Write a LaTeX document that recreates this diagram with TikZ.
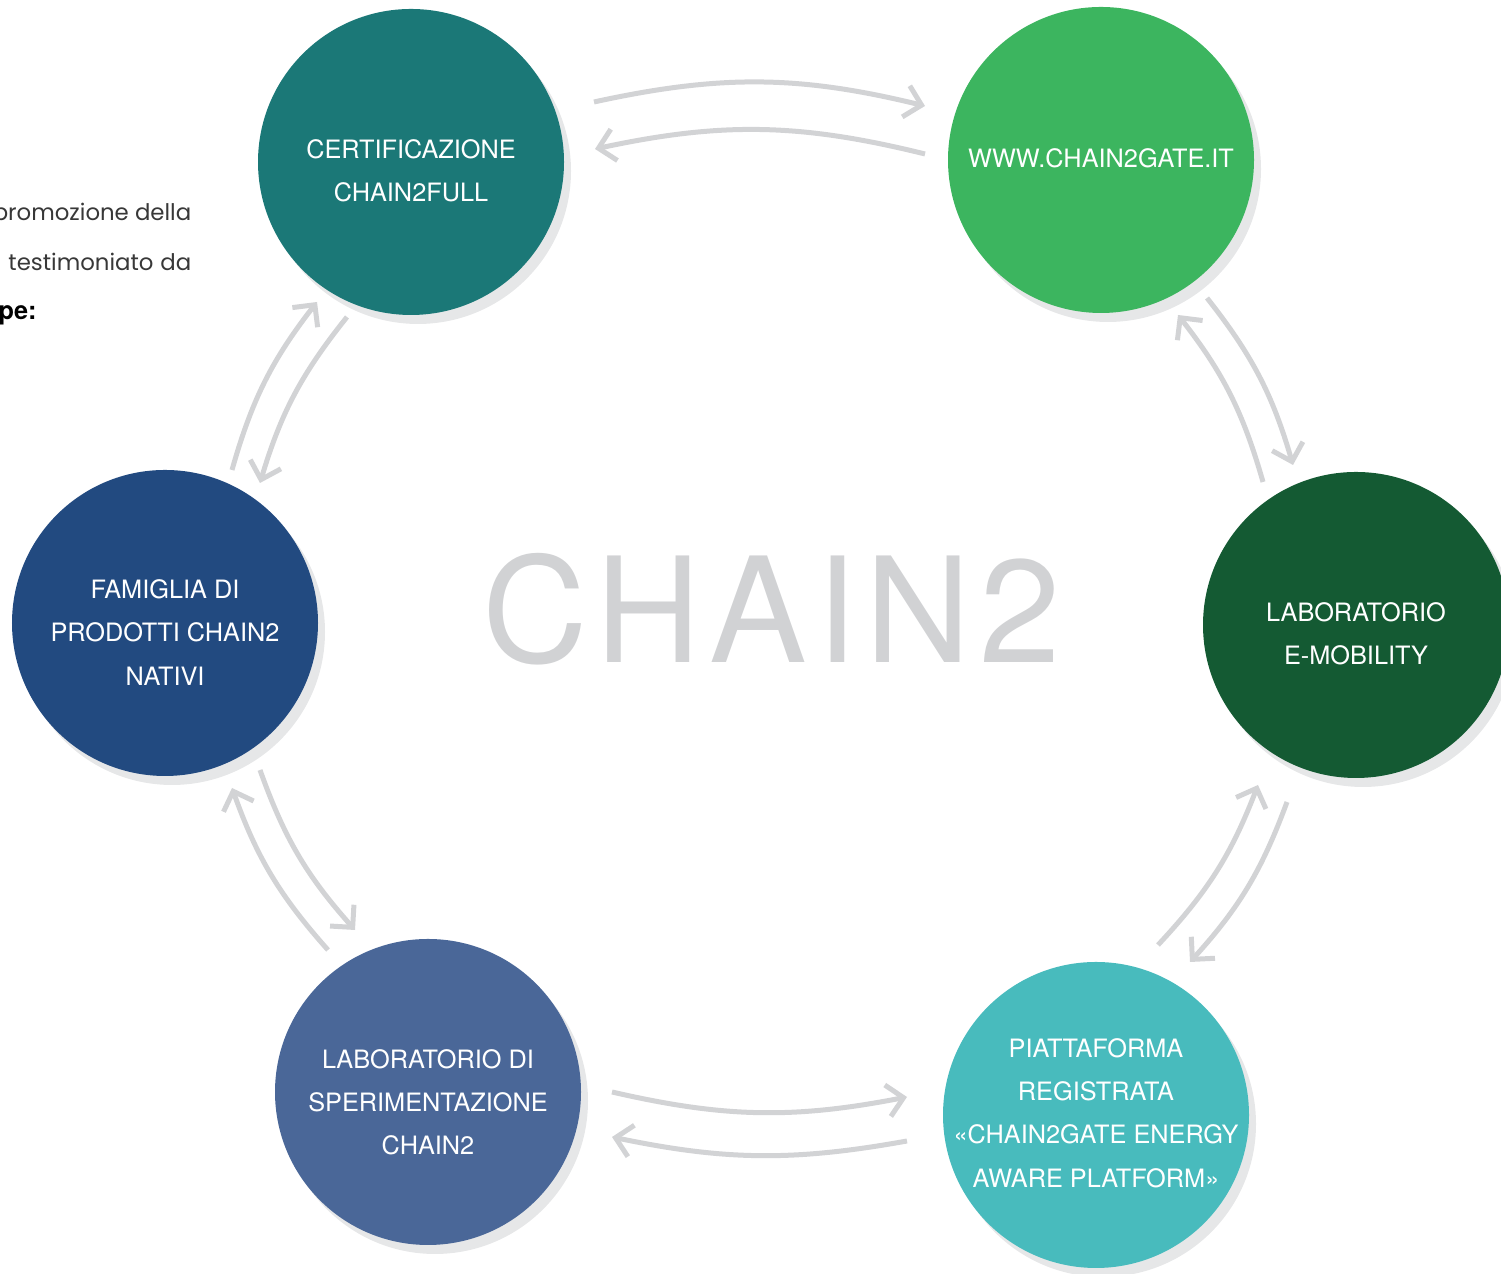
\documentclass[tikz,border=0pt]{standalone}
\usepackage{fontspec}
\setmainfont{TeX Gyre Heros}
\newfontfamily\popfont{Poppins}
\newfontfamily\hugefont[LetterSpace=6]{TeX Gyre Heros}
\usepackage{tikz}
\usetikzlibrary{arrows.meta,calc,shadows}
\usepackage{xcolor}
\definecolor{certteal}{HTML}{1B7877}
\definecolor{gategreen}{HTML}{3CB55F}
\definecolor{mobgreen}{HTML}{145A33}
\definecolor{platteal}{HTML}{48BBBD}
\definecolor{labblue}{HTML}{4A6798}
\definecolor{famblue}{HTML}{224A80}
\definecolor{flowgray}{HTML}{D2D3D5}
\definecolor{shadegray}{HTML}{E6E7E8}
\definecolor{wordgray}{HTML}{D1D2D4}

\begin{document}
\begin{tikzpicture}[>={Straight Barb[length=1.6mm,width=3.2mm]},line cap=butt,
  bubble/.style={circle,minimum size=3.06cm,inner sep=0pt,
    general shadow={fill=shadegray,shadow xshift=0.07cm,shadow yshift=-0.09cm}},
  caption/.style={text=white,align=center,font=\fontsize{7.2}{12.3}\selectfont},
  flow/.style={draw=flowgray,line width=0.05cm,->},
  note/.style={text=black!78,font=\popfont\fontsize{6.5}{8}\selectfont,inner sep=0pt}]
\useasboundingbox (0,0) rectangle (15.01,12.74);
\clip (0,0) rectangle (15.01,12.74);
% text cut off at the left margin
\node[note,anchor=base east] (line1) at (1.92,10.53) {promozione della};
\node[note,anchor=base east] (line2) at (1.92,10.03) {testimoniato\hspace{0.3em}da};
\node[note,anchor=base west,font=\bfseries\fontsize{7.2}{8}\selectfont,text=black] (line3) at (-0.02,9.54) {pe:};
% the six steps
\node[bubble,fill=certteal] (cert) at (4.11,11.12) {};
\node[bubble,fill=gategreen] (gate) at (11.01,11.14) {};
\node[bubble,fill=mobgreen] (emob) at (13.56,6.49) {};
\node[bubble,fill=platteal] (plat) at (10.96,1.59) {};
\node[bubble,fill=labblue] (lab) at (4.28,1.82) {};
\node[bubble,fill=famblue] (fam) at (1.65,6.51) {};
\node[caption] (certtxt) at ([yshift=-0.085cm]cert.center) {CERTIFICAZIONE\\CHAIN2FULL};
\node[caption] (gatetxt) at ([yshift=0.02cm]gate.center) {WWW.CHAIN2GATE.IT};
\node[caption] (emobtxt) at ([yshift=-0.085cm]emob.center) {LABORATORIO\\E-MOBILITY};
\node[caption] (plattxt) at ([yshift=0.02cm]plat.center) {PIATTAFORMA\\REGISTRATA\\«CHAIN2GATE ENERGY\\AWARE PLATFORM»};
\node[caption] (labtxt) at ([yshift=-0.105cm]lab.center) {LABORATORIO DI\\SPERIMENTAZIONE\\CHAIN2};
\node[caption] (famtxt) at ([yshift=-0.095cm]fam.center) {FAMIGLIA DI\\PRODOTTI CHAIN2\\NATIVI};
\node[text=wordgray,font=\hugefont\fontsize{41.6}{44}\selectfont,inner sep=0pt] (word) at (7.72,6.645) {CHAIN2};
% outer ring, clockwise
\draw[flow] ($(cert)+(1.83,0.60)$) to[bend left=13] ($(gate)+(-1.76,0.54)$);
\draw[flow] ($(gate)+(1.06,-1.38)$) to[bend left=11] ($(emob)+(-0.63,1.60)$);
\draw[flow] ($(emob)+(-0.69,-1.77)$) to[bend left=11] ($(plat)+(0.94,1.53)$);
\draw[flow] ($(plat)+(-1.89,-0.26)$) to[bend left=11] ($(lab)+(1.84,-0.45)$);
\draw[flow] ($(lab)+(-1.00,1.42)$) to[bend left=11] ($(fam)+(0.67,-1.65)$);
\draw[flow] ($(fam)+(0.67,1.53)$) to[bend left=11] ($(cert)+(-0.94,-1.40)$);
% inner ring, counterclockwise
\draw[flow] ($(gate)+(-1.76,0.06)$) to[bend right=13] ($(cert)+(1.84,0.13)$);
\draw[flow] ($(emob)+(-0.93,1.43)$) to[bend right=11] ($(gate)+(0.77,-1.55)$);
\draw[flow] ($(plat)+(0.62,1.70)$) to[bend right=11] ($(emob)+(-0.98,-1.60)$);
\draw[flow] ($(lab)+(1.84,0.00)$) to[bend right=12] ($(plat)+(-1.89,0.18)$);
\draw[flow] ($(fam)+(0.95,-1.47)$) to[bend right=11] ($(lab)+(-0.73,1.62)$);
\draw[flow] ($(cert)+(-0.64,-1.55)$) to[bend right=11] ($(fam)+(0.95,1.40)$);
\end{tikzpicture}
\end{document}
